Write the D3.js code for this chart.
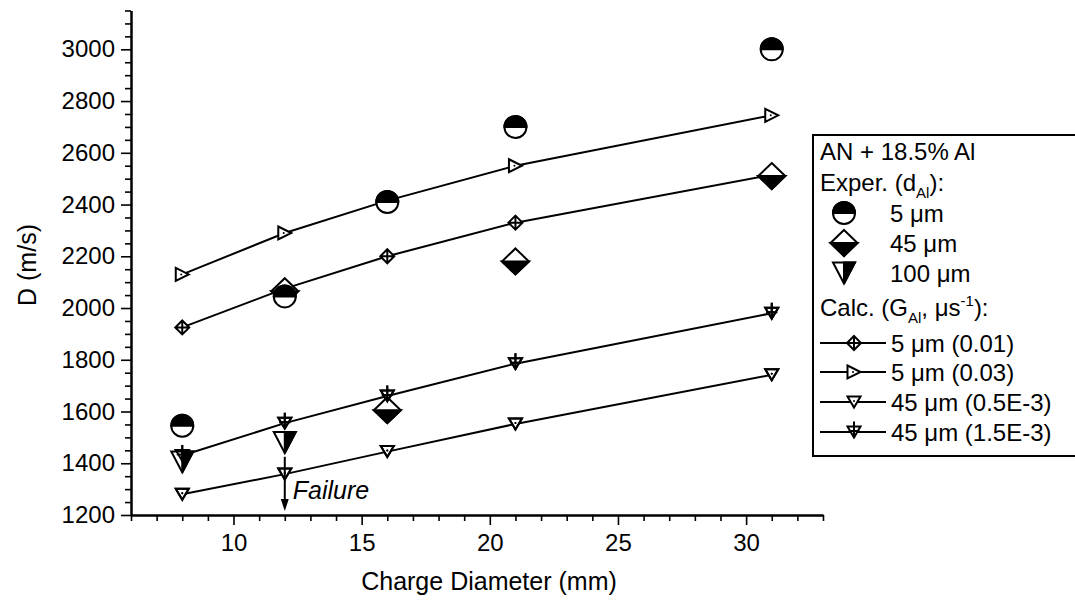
<!DOCTYPE html>
<html>
<head>
<meta charset="utf-8">
<script src="https://cdn.jsdelivr.net/npm/d3@7"></script>
<style>
  body { margin: 0; background: #fff; }
  svg { display: block; }
  text { font-family: Arial, "Liberation Sans", Helvetica, sans-serif; fill: #000; }
</style>
</head>
<body>
<svg id="chart" width="1075" height="610"></svg>
<script>
// Charge diameters (mm) used by the calculated curves
const diameters = [8, 12, 16, 21, 31];

// Calculated detonation velocity (m/s), AN + 18.5% Al
const calc5um001 = [1925, 2075, 2200, 2330, 2515];   // 5 um, G = 0.01
const calc5um003 = [2130, 2290, 2415, 2550, 2745];   // 5 um, G = 0.03
const calc45um05 = [1280, 1358, 1445, 1552, 1742];   // 45 um, G = 0.5E-3
const calc45um15 = [1430, 1555, 1660, 1785, 1980];   // 45 um, G = 1.5E-3

// Experimental points
const exp5X = [8, 12, 16, 21, 31];
const exp5Y = [1545, 2045, 2410, 2700, 3000];
const exp45X = [12, 16, 21, 31];
const exp45Y = [2065, 1605, 2180, 2510];
const exp100X = [8, 12];
const exp100Y = [1405, 1480];

// Failure arrow at 12 mm
const failureX = 12;
const failureFrom = 1425;
const failureTo = 1215;

// Axes
const xDomain = [6, 33];
const yDomain = [1200, 3150];
const xMajorTicks = [10, 15, 20, 25, 30];
const yMajorTicks = [1200, 1400, 1600, 1800, 2000, 2200, 2400, 2600, 2800, 3000];

const svg = d3.select("#chart");
const x = d3.scaleLinear().domain(xDomain).range([131, 823]);
const y = d3.scaleLinear().domain(yDomain).range([515, 10.5]);

// ---- axes ----
const xMinor = d3.range(6, 34, 1).filter(v => !xMajorTicks.includes(v));
const yMinor = d3.range(1200, 3151, 50).filter(v => !yMajorTicks.includes(v));
const fmt = d3.format("d");

function styleAxis(g) {
  g.selectAll("path.domain").attr("stroke", "#000").attr("stroke-width", 2);
  g.selectAll(".tick line").attr("stroke", "#000").attr("stroke-width", 1.6);
  g.selectAll(".tick text").style("font-size", "24px").attr("fill", "#000")
    .style("font-family", "Arial, 'Liberation Sans', sans-serif");
}

const xAxisG = svg.append("g").attr("transform", `translate(0,${y(yDomain[0])})`);
xAxisG.append("g").call(d3.axisBottom(x).tickValues(xMinor).tickSize(6).tickSizeOuter(0).tickFormat(""))
  .call(styleAxis);
xAxisG.append("g").call(d3.axisBottom(x).tickValues(xMajorTicks).tickSize(10).tickSizeOuter(0)
    .tickPadding(9).tickFormat(fmt))
  .call(styleAxis);

const yAxisG = svg.append("g").attr("transform", `translate(${x(xDomain[0])},0)`);
yAxisG.append("g").call(d3.axisLeft(y).tickValues(yMinor).tickSize(6).tickSizeOuter(0).tickFormat(""))
  .call(styleAxis);
yAxisG.append("g").call(d3.axisLeft(y).tickValues(yMajorTicks).tickSize(10).tickSizeOuter(0)
    .tickPadding(6).tickFormat(fmt))
  .call(styleAxis);

svg.append("text")
  .attr("x", 489).attr("y", 590)
  .attr("text-anchor", "middle")
  .style("font-size", "25px")
  .text("Charge Diameter (mm)");

svg.append("text")
  .attr("transform", "translate(36,265) rotate(-90)")
  .attr("text-anchor", "middle")
  .style("font-size", "25px")
  .text("D (m/s)");

// ---- marker shapes ----
function drawCircleHalf(g, cx, cy) {
  const r = 11;
  g.append("circle").attr("cx", cx).attr("cy", cy).attr("r", r)
    .attr("fill", "#fff").attr("stroke", "#000").attr("stroke-width", 2);
  g.append("path")
    .attr("d", `M${cx - r},${cy} A${r},${r} 0 0 1 ${cx + r},${cy} Z`)
    .attr("fill", "#000").attr("stroke", "#000").attr("stroke-width", 2);
}
function drawDiamondHalf(g, cx, cy) {
  const w = 13.5, h = 13;
  g.append("path")
    .attr("d", `M${cx},${cy - h} L${cx + w},${cy} L${cx},${cy + h} L${cx - w},${cy} Z`)
    .attr("fill", "#fff").attr("stroke", "#000").attr("stroke-width", 2).attr("stroke-linejoin", "miter");
  g.append("path")
    .attr("d", `M${cx - w},${cy} L${cx + w},${cy} L${cx},${cy + h} Z`)
    .attr("fill", "#000").attr("stroke", "#000").attr("stroke-width", 2);
}
function drawTriangleHalf(g, cx, cy) {
  const w = 11, h = 10.5;
  g.append("path")
    .attr("d", `M${cx - w},${cy - h} L${cx + w},${cy - h} L${cx},${cy + h} Z`)
    .attr("fill", "#fff").attr("stroke", "#000").attr("stroke-width", 2);
  g.append("path")
    .attr("d", `M${cx},${cy - h} L${cx + w},${cy - h} L${cx},${cy + h} Z`)
    .attr("fill", "#000").attr("stroke", "#000").attr("stroke-width", 2);
}

// calculated-curve symbols
const calcSymbols = {
  crossDiamond(g, cx, cy, fill) {
    const s = 7;
    g.append("path")
      .attr("d", `M${cx},${cy - s} L${cx + s},${cy} L${cx},${cy + s} L${cx - s},${cy} Z` +
                 `M${cx - s},${cy} L${cx + s},${cy} M${cx},${cy - s} L${cx},${cy + s}`)
      .attr("fill", fill).attr("stroke", "#000").attr("stroke-width", 2);
  },
  rightTri(g, cx, cy, fill) {
    const w = 6.5, h = 6.5;
    g.append("path")
      .attr("d", `M${cx - w},${cy - h} L${cx + w},${cy} L${cx - w},${cy + h} Z`)
      .attr("fill", fill).attr("stroke", "#000").attr("stroke-width", 2);
    g.append("circle").attr("cx", cx - 1).attr("cy", cy).attr("r", 1).attr("fill", "#000");
  },
  downTri(g, cx, cy, fill) {
    const w = 6.5, h = 5.5;
    g.append("path")
      .attr("d", `M${cx - w},${cy - h} L${cx + w},${cy - h} L${cx},${cy + h} Z`)
      .attr("fill", fill).attr("stroke", "#000").attr("stroke-width", 2);
    g.append("circle").attr("cx", cx).attr("cy", cy - 1).attr("r", 1).attr("fill", "#000");
  },
  downTriCross(g, cx, cy, fill) {
    const w = 6.5, h = 5.5;
    g.append("path")
      .attr("d", `M${cx - w},${cy - h} L${cx + w},${cy - h} L${cx},${cy + h} Z` +
                 `M${cx},${cy - h - 5} L${cx},${cy + h} M${cx - w + 1},${cy - 1} L${cx + w - 1},${cy - 1}`)
      .attr("fill", fill).attr("stroke", "#000").attr("stroke-width", 2);
  }
};

// "front" series are drawn again over the experimental markers
const calcSeries = [
  { values: calc5um001, symbol: "crossDiamond", label: "5 μm (0.01)", front: false },
  { values: calc5um003, symbol: "rightTri", label: "5 μm (0.03)", front: false },
  { values: calc45um05, symbol: "downTri", label: "45 μm (0.5E-3)", front: true },
  { values: calc45um15, symbol: "downTriCross", label: "45 μm (1.5E-3)", front: true }
];

const plot = svg.append("g");
const line = d3.line().x(d => x(d[0])).y(d => y(d[1]));

// curves
calcSeries.forEach(s => {
  plot.append("path")
    .datum(diameters.map((d, i) => [d, s.values[i]]))
    .attr("d", line).attr("fill", "none").attr("stroke", "#000").attr("stroke-width", 2);
});
// white-filled symbols hide the line underneath
calcSeries.forEach(s => {
  diameters.forEach((d, i) => calcSymbols[s.symbol](plot, x(d), y(s.values[i]), "#fff"));
});

// failure arrow
const fx = x(failureX);
plot.append("line")
  .attr("x1", fx).attr("x2", fx)
  .attr("y1", y(failureFrom)).attr("y2", y(failureTo) - 10)
  .attr("stroke", "#000").attr("stroke-width", 2);
plot.append("path")
  .attr("d", `M${fx - 4},${y(failureTo) - 12} L${fx + 4},${y(failureTo) - 12} L${fx},${y(failureTo)} Z`)
  .attr("fill", "#000");
plot.append("text")
  .attr("x", fx + 8).attr("y", 499)
  .style("font-size", "25px").style("font-style", "italic")
  .text("Failure");

// experimental points
exp45X.forEach((d, i) => drawDiamondHalf(plot, x(d), y(exp45Y[i])));
exp100X.forEach((d, i) => drawTriangleHalf(plot, x(d), y(exp100Y[i])));
exp5X.forEach((d, i) => drawCircleHalf(plot, x(d), y(exp5Y[i])));

// outlines of the 45 um curves stay visible over overlapping markers
calcSeries.filter(s => s.front).forEach(s => {
  diameters.forEach((d, i) => calcSymbols[s.symbol](plot, x(d), y(s.values[i]), "none"));
});

// ---- legend ----
const lg = svg.append("g");
lg.append("rect")
  .attr("x", 813).attr("y", 135).attr("width", 272).attr("height", 321)
  .attr("fill", "#fff").attr("stroke", "#000").attr("stroke-width", 2);

const lx = 820;
const fs = "24px";
lg.append("text").attr("x", lx).attr("y", 160).style("font-size", fs).text("AN + 18.5% Al");

const t2 = lg.append("text").attr("x", lx).attr("y", 191).style("font-size", fs);
t2.append("tspan").text("Exper. (d");
t2.append("tspan").attr("dy", 7).style("font-size", "15px").text("Al");
t2.append("tspan").attr("dy", -7).text("):");

const expRows = [
  { draw: drawCircleHalf, label: "5 μm", y: 213 },
  { draw: drawDiamondHalf, label: "45 μm", y: 243 },
  { draw: drawTriangleHalf, label: "100 μm", y: 273 }
];
expRows.forEach(r => {
  r.draw(lg, 844, r.y);
  lg.append("text").attr("x", 890).attr("y", r.y + 9).style("font-size", fs).text(r.label);
});

const t3 = lg.append("text").attr("x", lx).attr("y", 316).style("font-size", fs);
t3.append("tspan").text("Calc. (G");
t3.append("tspan").attr("dy", 7).style("font-size", "15px").text("Al");
t3.append("tspan").attr("dy", -7).text(", μs");
t3.append("tspan").attr("dy", -10).style("font-size", "15px").text("-1");
t3.append("tspan").attr("dy", 10).text("):");

const calcRowY = [343, 372, 402, 432];
calcSeries.forEach((s, i) => {
  const ry = calcRowY[i];
  lg.append("line").attr("x1", 820).attr("x2", 886).attr("y1", ry).attr("y2", ry)
    .attr("stroke", "#000").attr("stroke-width", 2);
  calcSymbols[s.symbol](lg, 854, ry, "#fff");
  lg.append("text").attr("x", 891).attr("y", ry + 9).style("font-size", fs).text(s.label);
});
</script>
</body>
</html>
